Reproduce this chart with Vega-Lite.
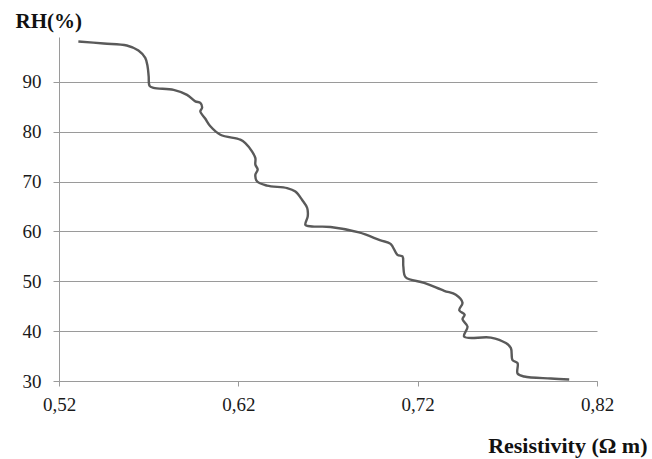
{
  "$schema": "https://vega.github.io/schema/vega-lite/v6.json",
  "autosize": {"type": "none"},
  "padding": {"left": 59, "top": 37, "right": 55, "bottom": 78},
  "width": 538,
  "height": 344,
  "background": "white",
  "config": {"view": {"stroke": null}},
  "data": {"values": [
    {"i": 1, "r": 0.5308, "rh": 98.1},
    {"i": 2, "r": 0.545, "rh": 97.7},
    {"i": 3, "r": 0.5578, "rh": 97.3},
    {"i": 4, "r": 0.5643, "rh": 96.3},
    {"i": 5, "r": 0.5681, "rh": 94.8},
    {"i": 6, "r": 0.5694, "rh": 93.1},
    {"i": 7, "r": 0.57, "rh": 91.1},
    {"i": 8, "r": 0.5705, "rh": 89.2},
    {"i": 9, "r": 0.5727, "rh": 88.8},
    {"i": 10, "r": 0.5839, "rh": 88.4},
    {"i": 11, "r": 0.5914, "rh": 87.4},
    {"i": 12, "r": 0.596, "rh": 86.1},
    {"i": 13, "r": 0.5988, "rh": 85.8},
    {"i": 14, "r": 0.5998, "rh": 84.8},
    {"i": 15, "r": 0.5988, "rh": 84.1},
    {"i": 16, "r": 0.6016, "rh": 82.6},
    {"i": 17, "r": 0.6044, "rh": 81.1},
    {"i": 18, "r": 0.61, "rh": 79.4},
    {"i": 19, "r": 0.6211, "rh": 78.4},
    {"i": 20, "r": 0.6239, "rh": 77.7},
    {"i": 21, "r": 0.6277, "rh": 76.0},
    {"i": 22, "r": 0.6295, "rh": 74.7},
    {"i": 23, "r": 0.6295, "rh": 73.4},
    {"i": 24, "r": 0.6308, "rh": 72.4},
    {"i": 25, "r": 0.6295, "rh": 71.4},
    {"i": 26, "r": 0.6305, "rh": 70.0},
    {"i": 27, "r": 0.636, "rh": 69.2},
    {"i": 28, "r": 0.6472, "rh": 68.7},
    {"i": 29, "r": 0.6518, "rh": 68.0},
    {"i": 30, "r": 0.6556, "rh": 66.3},
    {"i": 31, "r": 0.6584, "rh": 64.7},
    {"i": 32, "r": 0.6587, "rh": 63.0},
    {"i": 33, "r": 0.6574, "rh": 61.3},
    {"i": 34, "r": 0.6611, "rh": 61.0},
    {"i": 35, "r": 0.6714, "rh": 60.9},
    {"i": 36, "r": 0.6873, "rh": 59.8},
    {"i": 37, "r": 0.6993, "rh": 58.2},
    {"i": 38, "r": 0.7049, "rh": 57.5},
    {"i": 39, "r": 0.7087, "rh": 55.3},
    {"i": 40, "r": 0.7115, "rh": 55.0},
    {"i": 41, "r": 0.712, "rh": 53.0},
    {"i": 42, "r": 0.7133, "rh": 50.8},
    {"i": 43, "r": 0.7236, "rh": 49.7},
    {"i": 44, "r": 0.7348, "rh": 48.1},
    {"i": 45, "r": 0.7413, "rh": 47.3},
    {"i": 46, "r": 0.745, "rh": 45.7},
    {"i": 47, "r": 0.7432, "rh": 44.2},
    {"i": 48, "r": 0.7462, "rh": 43.3},
    {"i": 49, "r": 0.745, "rh": 42.4},
    {"i": 50, "r": 0.7478, "rh": 40.9},
    {"i": 51, "r": 0.7459, "rh": 38.9},
    {"i": 52, "r": 0.7608, "rh": 38.7},
    {"i": 53, "r": 0.7692, "rh": 37.6},
    {"i": 54, "r": 0.772, "rh": 36.6},
    {"i": 55, "r": 0.7729, "rh": 34.2},
    {"i": 56, "r": 0.7757, "rh": 33.6},
    {"i": 57, "r": 0.7757, "rh": 31.5},
    {"i": 58, "r": 0.7794, "rh": 30.9},
    {"i": 59, "r": 0.7943, "rh": 30.5},
    {"i": 60, "r": 0.8045, "rh": 30.3}
  ]},
  "mark": {"type": "line", "color": "#5a5a5a", "strokeWidth": 2.4, "interpolate": "catmull-rom"},
  "encoding": {
    "order": {"field": "i", "type": "quantitative"},
    "x": {
      "field": "r", "type": "quantitative",
      "scale": {"domain": [0.52, 0.82], "nice": false, "zero": false},
      "axis": {
        "values": [0.52, 0.62, 0.72, 0.82],
        "labelExpr": "replace(format(datum.value, '.2f'), '.', ',')",
        "grid": false,
        "domainColor": "#9a9a9a", "tickColor": "#9a9a9a", "tickSize": 5,
        "labelFont": "Liberation Serif", "labelFontSize": 19, "labelColor": "#1a1a1a",
        "labelPadding": 9,
        "labelFlush": false,
        "title": "Resistivity (Ω m)",
        "titleFont": "Liberation Serif", "titleFontSize": 22, "titleFontWeight": "bold", "titleColor": "#111111",
        "titleAnchor": "end", "titleAlign": "right", "titleBaseline": "alphabetic",
        "titleX": 588, "titleY": 71
      }
    },
    "y": {
      "field": "rh", "type": "quantitative",
      "scale": {"domain": [30, 99], "nice": false, "zero": false},
      "axis": {
        "values": [30, 40, 50, 60, 70, 80, 90],
        "grid": true, "gridColor": "#9a9a9a", "gridWidth": 1,
        "domainColor": "#9a9a9a", "tickColor": "#9a9a9a", "tickSize": 6,
        "labelFont": "Liberation Serif", "labelFontSize": 19, "labelColor": "#1a1a1a",
        "labelPadding": 12,
        "labelFlush": false,
        "title": "RH(%)",
        "titleFont": "Liberation Serif", "titleFontSize": 21, "titleFontWeight": "bold", "titleColor": "#111111",
        "titleAngle": 0, "titleAlign": "left", "titleBaseline": "alphabetic",
        "titleX": -44, "titleY": -10
      }
    }
  }
}
